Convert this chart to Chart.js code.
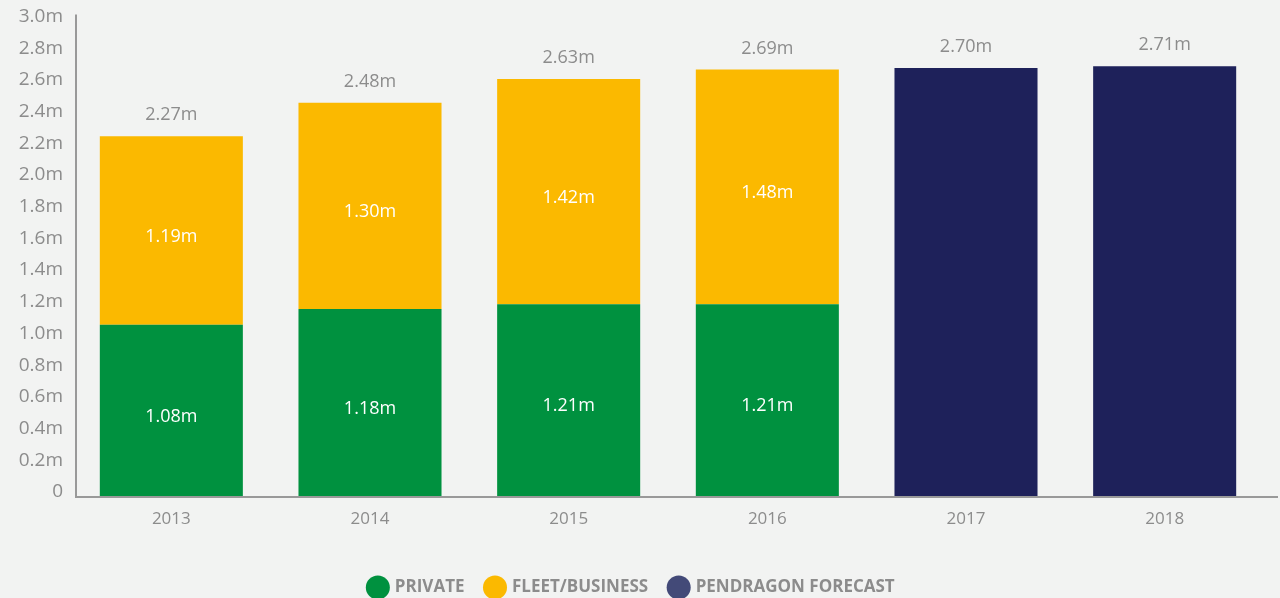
<!DOCTYPE html>
<html>
  <script src="https://cdn.jsdelivr.net/npm/chart.js"></script>
  <body style="margin: 0; background: #f2f3f2;">
    <canvas id="myChart" width="1280" height="598"></canvas>

    <script>
      const ctx = document.getElementById('myChart');

      // car registrations, millions
      const years = ['2013', '2014', '2015', '2016', '2017', '2018'];
      const privateSales = [1.08, 1.18, 1.21, 1.21, null, null];
      const fleetSales = [1.19, 1.30, 1.42, 1.48, null, null];
      const forecast = [null, null, null, null, 2.70, 2.71];

      const grey = '#8c8c8c';
      const font = 'Open Sans';

      function fmt(v) {
        return v.toFixed(2) + 'm';
      }

      // axis lines sit a little off the plot edges
      const axisLines = {
        id: 'axisLines',
        beforeDatasetsDraw(chart) {
          const a = chart.chartArea;
          const c = chart.ctx;
          c.save();
          c.strokeStyle = '#999999';
          c.lineWidth = 2;
          c.beginPath();
          c.moveTo(a.left + 4, a.top - 6);
          c.lineTo(a.left + 4, a.bottom + 1);
          c.lineTo(a.right + 14, a.bottom + 1);
          c.stroke();
          c.restore();
        }
      };

      // white numbers inside the segments, grey totals above each column
      const valueLabels = {
        id: 'valueLabels',
        afterDatasetsDraw(chart) {
          const c = chart.ctx;
          const y = chart.scales.y;
          c.save();
          c.textAlign = 'center';
          c.textBaseline = 'middle';
          c.font = '18px "' + font + '"';
          chart.data.datasets.forEach(function (ds, i) {
            if (!ds.inside) return;
            chart.getDatasetMeta(i).data.forEach(function (bar, j) {
              if (ds.data[j] == null) return;
              c.fillStyle = '#ffffff';
              c.fillText(fmt(ds.data[j]), bar.x, (bar.y + bar.base) / 2 + 6);
            });
          });
          years.forEach(function (yr, j) {
            const total = (privateSales[j] || 0) + (fleetSales[j] || 0) + (forecast[j] || 0);
            const x = chart.getDatasetMeta(0).data[j].x;
            c.fillStyle = grey;
            c.fillText(fmt(total), x, y.getPixelForValue(total) - 21);
          });
          c.restore();
        }
      };

      new Chart(ctx, {
        type: 'bar',
        data: {
          labels: years,
          datasets: [
            { label: 'PRIVATE', data: privateSales, backgroundColor: '#00913f', inside: true },
            { label: 'FLEET/BUSINESS', data: fleetSales, backgroundColor: '#fbb900', inside: true },
            { label: 'PENDRAGON FORECAST', data: forecast, backgroundColor: '#1e215a', legendColor: '#434a78' }
          ]
        },
        options: {
          responsive: false,
          animation: false,
          layout: { padding: { top: 5, right: 16, left: 0, bottom: -8 } },
          datasets: { bar: { barPercentage: 0.72, categoryPercentage: 1 } },
          plugins: {
            tooltip: { enabled: false },
            legend: {
              position: 'bottom',
              labels: {
                usePointStyle: true,
                pointStyle: 'circle',
                color: grey,
                padding: 22,
                font: { family: font, size: 17, weight: 'bold' },
                generateLabels(chart) {
                  return chart.data.datasets.map(function (ds, i) {
                    const col = ds.legendColor || ds.backgroundColor;
                    return { text: ds.label, fillStyle: col, strokeStyle: col, lineWidth: 0,
                             pointStyle: 'circle', fontColor: grey, datasetIndex: i };
                  });
                }
              }
            }
          },
          scales: {
            x: {
              stacked: true,
              grid: { display: false, drawTicks: false },
              border: { display: false },
              ticks: { color: grey, padding: 13, font: { family: font, size: 17 } },
              afterFit(s) { s.height = 61; }
            },
            y: {
              stacked: true,
              min: 0,
              max: 3.0,
              grid: { display: false, drawTicks: false },
              border: { display: false },
              ticks: {
                stepSize: 0.2,
                color: grey,
                padding: 9,
                labelOffset: -4,
                font: { family: font, size: 19 },
                callback: function (v) { return v === 0 ? '0' : v.toFixed(1) + 'm'; }
              },
              afterFit(s) { s.width = 72; }
            }
          }
        },
        plugins: [axisLines, valueLabels]
      });
    </script>
  </body>
</html>
